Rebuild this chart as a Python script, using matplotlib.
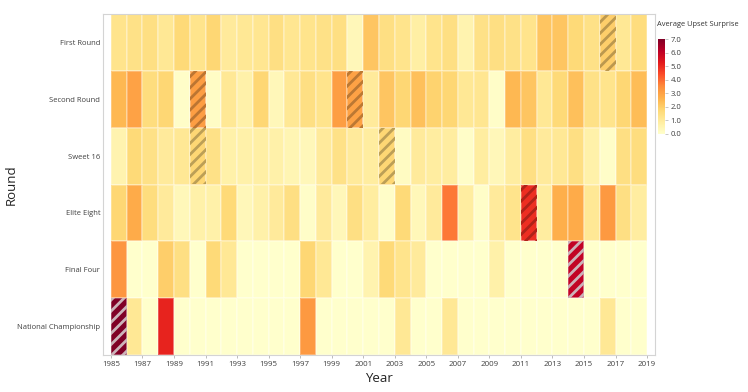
import numpy as np
import matplotlib
matplotlib.use("Agg")
import matplotlib.pyplot as plt
from matplotlib.patches import Rectangle
from matplotlib.colors import Normalize

plt.rcParams['font.family'] = ['Open Sans', 'DejaVu Sans']
plt.rcParams['hatch.linewidth'] = 2.0

# Data (average upset surprise per round and year)
rounds = ["First Round", "Second Round", "Sweet 16", "Elite Eight",
          "Final Four", "National Championship"]
years = list(range(1985, 2019))

first_round = [1.3, 1.4, 1.5, 1.1, 1.7, 1.3, 1.8, 1.0, 1.1, 1.2, 1.5, 1.2, 1.3, 1.4, 1.5, 0.4, 2.2,
               1.5, 1.3, 0.8, 1.3, 1.5, 0.6, 1.4, 1.5, 1.4, 1.3, 2.2, 2.2, 1.7, 1.4, 2.0, 1.1, 1.6]
second_round = [2.5, 3.0, 1.6, 1.8, 0.1, 3.1, 0.15, 1.1, 0.7, 1.8, 0.4, 1.1, 1.5, 1.3, 3.1, 3.0, 1.0,
                2.2, 1.8, 2.3, 1.9, 1.8, 1.1, 1.2, 0.1, 2.5, 2.2, 1.1, 1.7, 2.3, 1.4, 1.3, 1.8, 2.4]
sweet_16 = [0.6, 1.7, 1.4, 1.0, 1.1, 1.8, 1.4, 0.7, 0.7, 0.8, 0.7, 0.5, 0.4, 1.0, 1.4, 1.0, 0.9,
            1.8, 0.2, 1.0, 0.9, 0.9, 0.1, 0.9, 0.4, 0.9, 1.5, 1.0, 1.1, 1.5, 0.7, 0.1, 1.5, 1.6]
elite_eight = [1.8, 2.8, 1.6, 1.0, 0.4, 0.7, 0.7, 1.7, 0.4, 0.7, 1.0, 1.5, 0.1, 1.0, 0.4, 1.5, 0.9,
               0.1, 1.7, 0.4, 1.0, 3.8, 0.9, 0.1, 1.0, 1.3, 4.9, 0.9, 2.7, 2.8, 1.1, 3.2, 1.5, 0.9]
final_four = [3.3, 0, 0, 2.0, 1.5, 0, 1.7, 1.1, 0, 0, 0, 0, 1.8, 1.1, 0, 0, 0.6,
              1.7, 1.3, 1.0, 0, 0, 0, 0, 0.7, 0, 0, 0, 0, 6.0, 0, 0, 0, 0]
national = [7.0, 1.1, 0, 5.1, 0, 0, 0, 0, 0, 0, 0, 0, 3.2, 0, 0, 0, 0,
            0, 1.1, 0, 0, 1.1, 0, 0, 0, 0, 0, 0, 0, 0, 0, 1.1, 0, 0]

# cells drawn with a striped pattern in the reference
hatched = [("First Round", 2016), ("Second Round", 1990), ("Second Round", 2000),
           ("Sweet 16", 1990), ("Sweet 16", 2002), ("Elite Eight", 2011),
           ("Final Four", 2014), ("National Championship", 1985)]

values = np.array([first_round, second_round, sweet_16, elite_eight, final_four, national])

cmap = plt.get_cmap("YlOrRd")
norm = Normalize(vmin=0, vmax=7)

fig = plt.figure(figsize=(7.48, 3.92), dpi=100)
ax = fig.add_axes([103 / 748, 1 - 355 / 392, 552 / 748, 341 / 392])

x_edges = np.arange(years[0], years[-1] + 2)
y_edges = np.arange(len(rounds) + 1)
mesh = ax.pcolormesh(x_edges, y_edges, values, cmap=cmap, norm=norm,
                     edgecolors=(1, 1, 1, 0.25), linewidth=0.3)

# striped cells: light stripes on dark cells, darker stripes on light ones
for rnd, yr in hatched:
    r = rounds.index(rnd)
    c = years.index(yr)
    face = np.array(cmap(norm(values[r, c]))[:3])
    if values[r, c] >= 5.8:
        stripe = (0.80, 0.70, 0.73)
    else:
        stripe = tuple(face * 0.74)
    ax.add_patch(Rectangle((yr, r), 1, 1, facecolor='none', edgecolor=stripe,
                           linewidth=0, hatch='///'))

ax.set_xlim(years[0] - 0.5, years[-1] + 1.5)
ax.set_ylim(len(rounds), 0)

ax.set_yticks(np.arange(len(rounds)) + 0.5)
ax.set_yticklabels(rounds, fontsize=5.5, color='#404040')
ax.tick_params(axis='y', length=0, pad=2)

ax.set_xticks(np.arange(1985, 2020, 2))
ax.set_xticklabels([str(y) for y in range(1985, 2020, 2)], fontsize=5.7, color='#404040')
ax.tick_params(axis='x', length=2.5, width=0.6, color='#b0b0b0', pad=2)

for s in ax.spines.values():
    s.set_color('#d4d4d4')
    s.set_linewidth(0.8)

ax.set_xlabel("Year", fontsize=9.5, color='#222222', labelpad=3)
ax.set_ylabel("Round", fontsize=9.5, color='#222222')
ax.yaxis.set_label_coords((18 - 103) / 552, 0.5)

# colorbar
cax = fig.add_axes([658 / 748, 1 - 134 / 392, 7 / 748, 95 / 392])
cb = fig.colorbar(mesh, cax=cax, ticks=np.arange(0, 8, 1))
cb.outline.set_visible(False)
cb.ax.set_yticklabels([f"{t:.1f}" for t in range(0, 8)], fontsize=5.6, color='#404040')
cb.ax.tick_params(length=2, width=0.5, color='#b0b0b0', pad=2)
fig.text(657 / 748, 1 - 24 / 392, "Average Upset Surprise", fontsize=5.4,
         color='#333333', ha='left', va='center')

fig.savefig("out.png", dpi=100)
